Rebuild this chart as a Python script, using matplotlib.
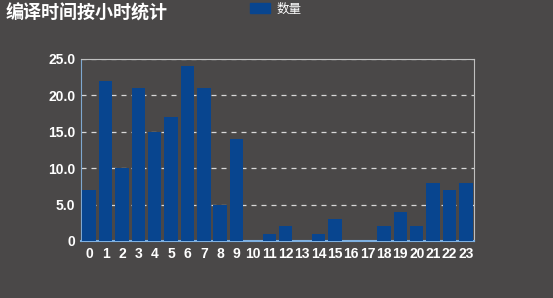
import matplotlib
matplotlib.use("Agg")
import matplotlib.pyplot as plt
from matplotlib.patches import Patch

plt.rcParams["font.family"] = ["Noto Sans CJK SC", "DejaVu Sans"]

hours = list(range(24))
counts = [7, 22, 10, 21, 15, 17, 24, 21, 5, 14, 0, 1, 2, 0, 1, 3, 0, 0, 2, 4, 2, 8, 7, 8]
yticks = [0, 5, 10, 15, 20, 25]
ytick_labels = ["0", "5.0", "10.0", "15.0", "20.0", "25.0"]
title = "编译时间按小时统计"
series_name = "数量"

bg = "#4a4848"
bar_color = "#08458f"

fig = plt.figure(figsize=(5.53, 2.98), dpi=100, facecolor=bg)
ax = fig.add_axes([81 / 553, 1 - 241 / 298, (474 - 81) / 553, (241 - 59) / 298])
ax.set_facecolor(bg)

ax.bar(hours, counts, width=0.82, color=bar_color, zorder=3)

ax.set_xlim(-0.5, 23.5)
ax.set_ylim(0, 25)
ax.set_xticks(hours)
ax.set_xticklabels([str(h) for h in hours])
ax.set_yticks(yticks)
ax.set_yticklabels(ytick_labels)
ax.tick_params(colors="white", labelsize=10, length=0, pad=4)
for lbl in ax.get_xticklabels() + ax.get_yticklabels():
    lbl.set_fontweight("bold")
    lbl.set_family(["Liberation Sans", "DejaVu Sans"])

# dashed grid only between the frame lines
ax.yaxis.grid(True, color="#d8d8d8", linestyle=(0, (4, 4)), linewidth=0.9, zorder=1)

ax.spines["left"].set_color("#7fa8d0")
ax.spines["bottom"].set_color("#7fb0e0")
ax.spines["bottom"].set_linewidth(1.5)
ax.spines["top"].set_color("#bfbfbf")
ax.spines["right"].set_color("#bfbfbf")

fig.text(6 / 553, 1 - 13 / 298, title, color="white", fontsize=13,
         fontweight="bold", va="center", ha="left")

handles = [Patch(facecolor=bar_color, edgecolor=bar_color)]
fig.legend(handles, [series_name], loc="center", bbox_to_anchor=(276 / 553, 1 - 9 / 298),
           frameon=False, labelcolor="white", fontsize=9, handlelength=1.6,
           handleheight=0.8, handletextpad=0.5)

fig.savefig("out.png", dpi=100, facecolor=bg)
